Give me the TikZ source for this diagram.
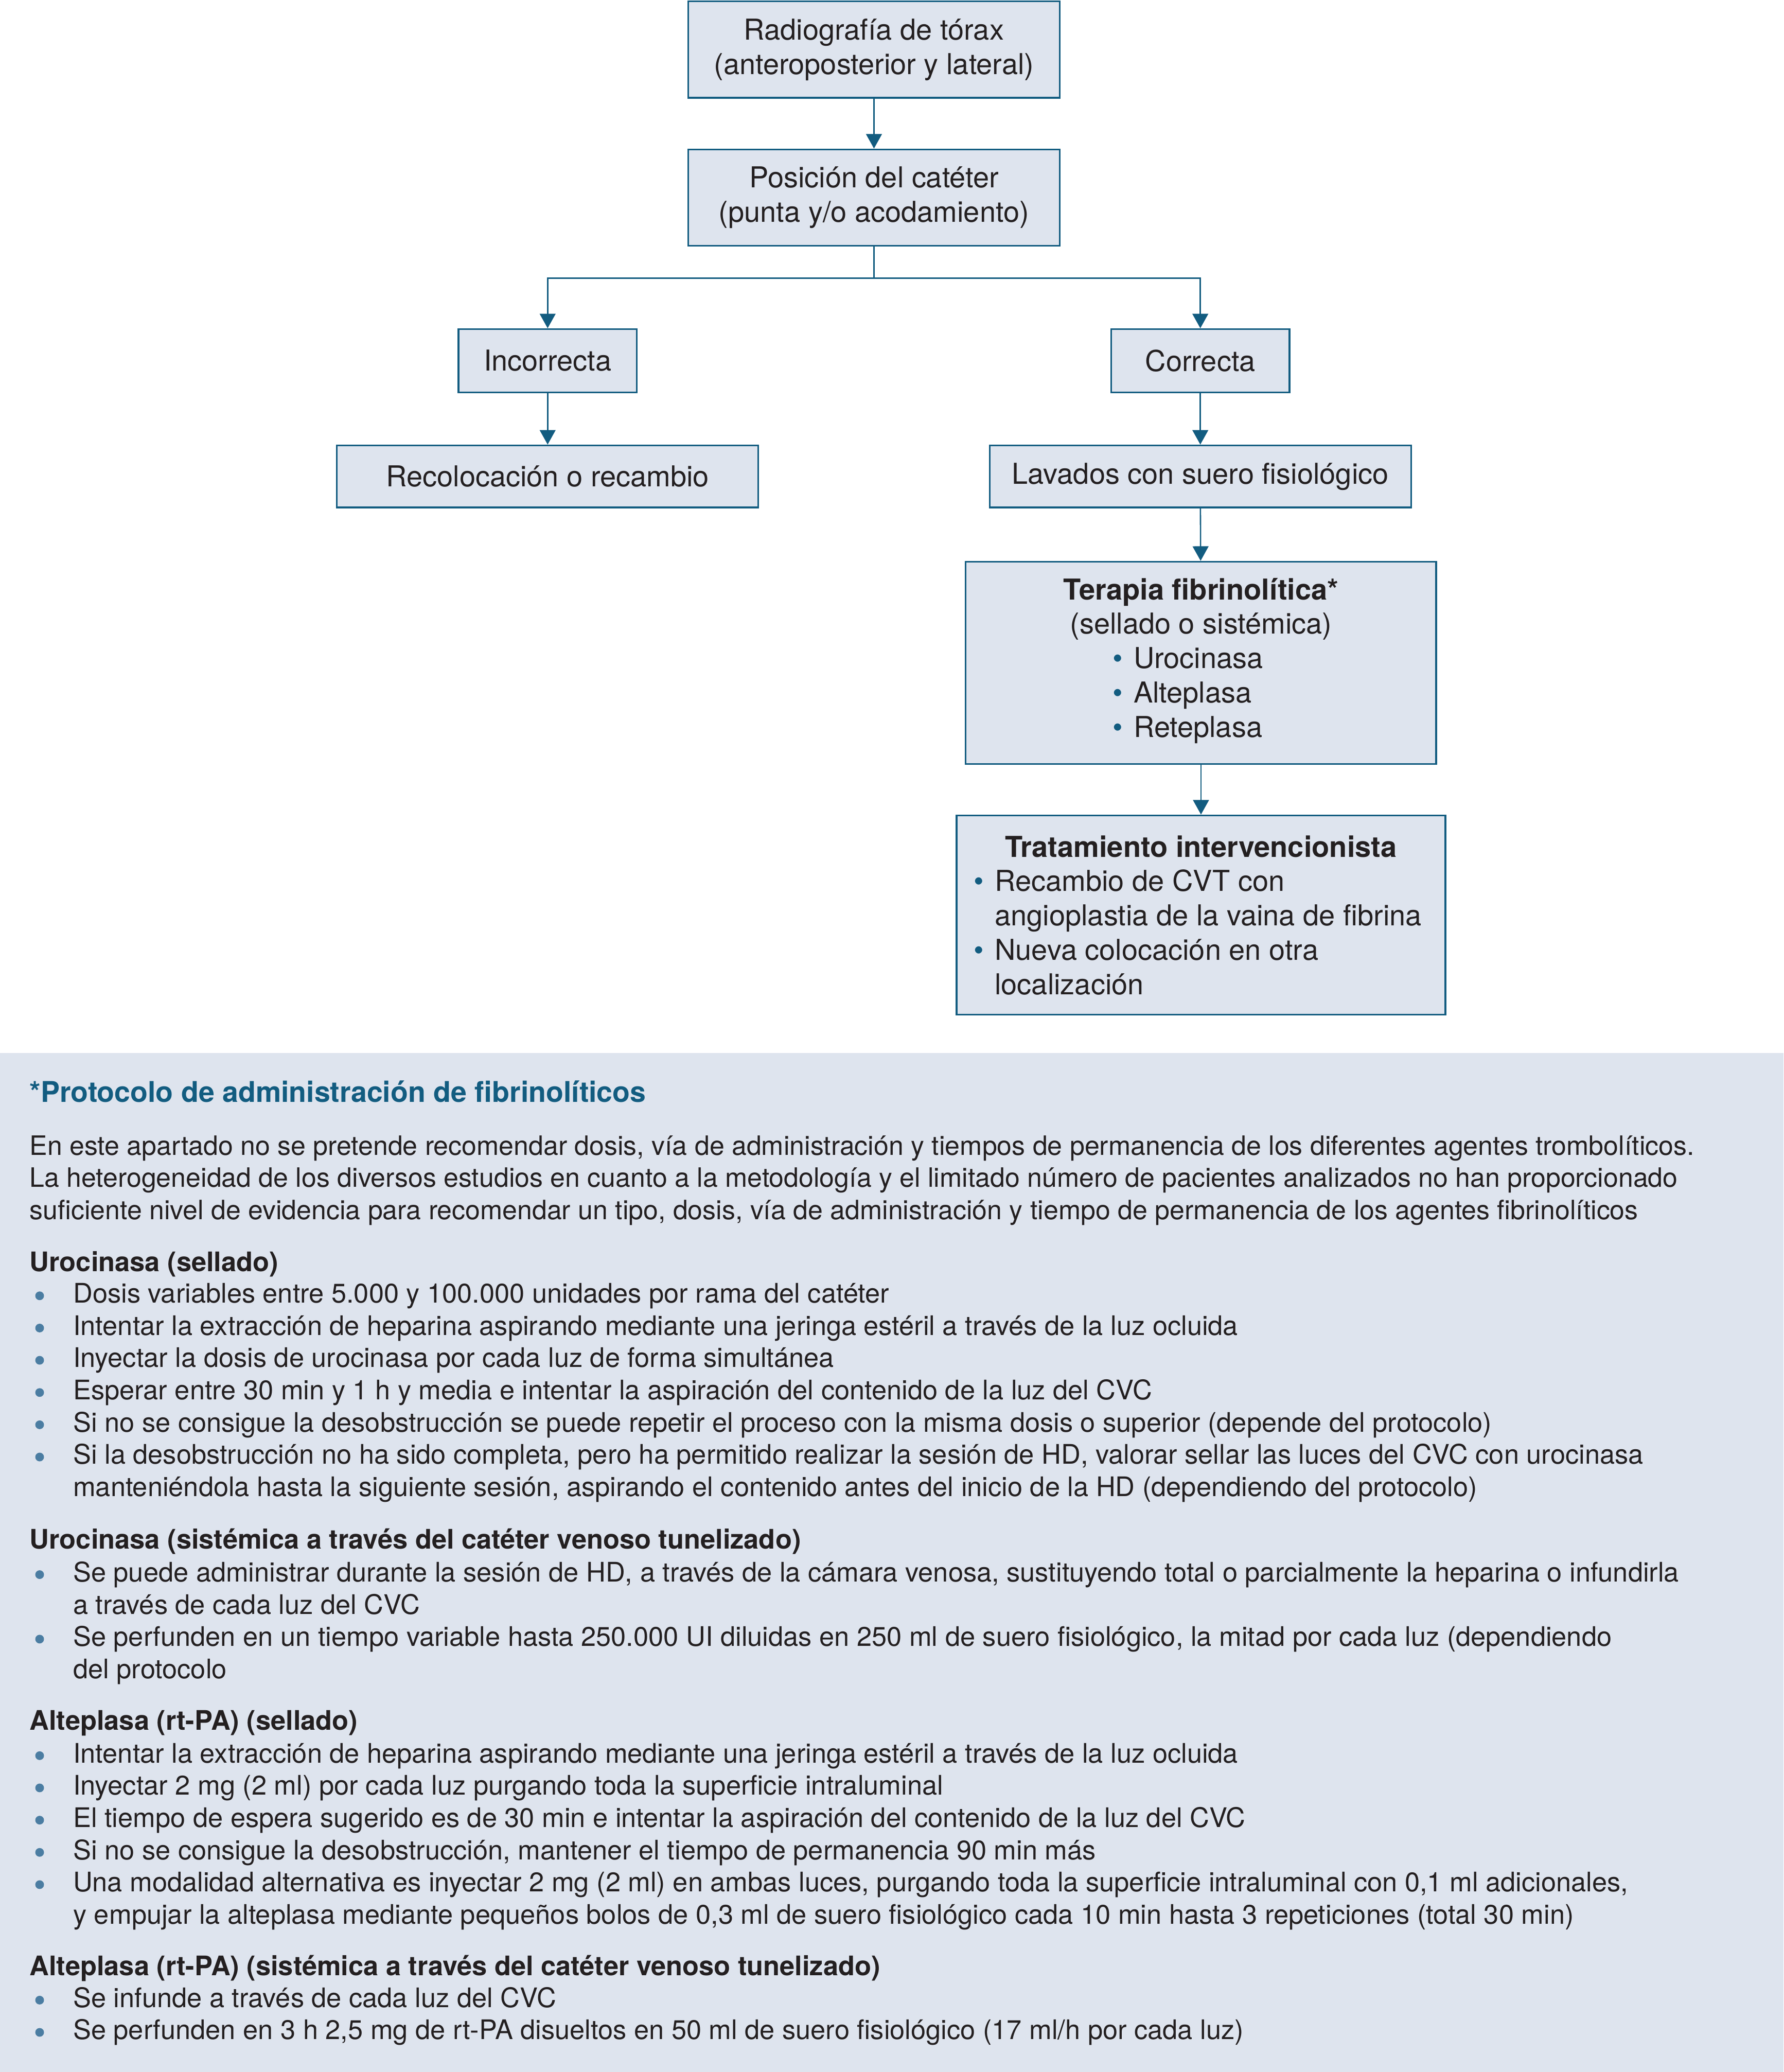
\documentclass[tikz,border=0pt]{standalone}
\usepackage{fontspec}
\setmainfont{TeX Gyre Heros}
\usetikzlibrary{arrows.meta}

\definecolor{cvblue}{RGB}{18,92,128}
\definecolor{cvfill}{RGB}{222,228,238}
\definecolor{cvdot}{RGB}{75,125,162}
\definecolor{cvtext}{RGB}{35,31,32}
\newcommand{\bul}{\makebox[8pt][l]{\textcolor{cvblue}{\textbullet}}}

\begin{document}
\begin{tikzpicture}[x=0.5pt, y=-0.5pt, >={Triangle[width=6pt,length=5.5pt]}]
    \tikzstyle{box}=[draw=cvblue, line width=0.6pt, fill=cvfill, inner sep=0pt, text=cvtext, font=\fontsize{10.9}{13}\selectfont, align=center]
    \tikzstyle{arrow}=[->, draw=cvblue, line width=0.5pt]
    \tikzstyle{line}=[anchor=base west, inner sep=0pt, text=cvtext, font=\fontsize{10.2}{12.2}\selectfont]
    \tikzstyle{head}=[line, font=\fontsize{10.2}{12.2}\selectfont\bfseries]
    \tikzstyle{dot}=[circle, fill=cvdot, inner sep=0pt, minimum size=3.3pt]

    \useasboundingbox (0,0) rectangle (1350,1568);

    % Draw the flowchart boxes
    \node[box, minimum width=140.5pt, minimum height=36.5pt] (rx) at (661.5,37.5) {Radiografía de tórax\\(anteroposterior y lateral)};
    \node[box, minimum width=140.5pt, minimum height=36.5pt] (pos) at (661.5,149.5) {Posición del catéter\\(punta y/o acodamiento)};
    \node[box, minimum width=67.5pt, minimum height=24pt] (inc) at (414.5,273) {Incorrecta};
    \node[box, minimum width=67.5pt, minimum height=24pt] (cor) at (908.5,273) {Correcta};
    \node[box, minimum width=159.5pt, minimum height=23.5pt] (rec) at (414.5,360.5) {Recolocación o recambio};
    \node[box, minimum width=159.5pt, minimum height=23.5pt] (lav) at (908.5,360.5) {Lavados con suero fisiológico};
    \node[box, minimum width=178pt, minimum height=76.5pt] (ter) at (909,501.5) {\textbf{Terapia fibrinolítica*}\\(sellado o sistémica)\\
        \hspace*{-10pt}\begin{tabular}[t]{@{}l@{}}\bul Urocinasa\\ \bul Alteplasa\\ \bul Reteplasa\end{tabular}};
    \node[box, minimum width=185pt, minimum height=75.5pt, align=left] (trat) at (909,692.5) {\makebox[172pt]{\textbf{Tratamiento intervencionista}}\\
        \bul Recambio de CVT con\\ \hspace*{8pt}angioplastia de la vaina de fibrina\\
        \bul Nueva colocación en otra\\ \hspace*{8pt}localización};

    % Connect the boxes
    \draw[arrow] (rx) -- (pos);
    \draw[arrow] (pos.south) -- ++(0,24) coordinate (split) -| (inc.north);
    \draw[arrow] (split) -| (cor.north);
    \draw[arrow] (inc) -- (rec);
    \draw[arrow] (cor) -- (lav);
    \draw[arrow] (lav) -- (ter);
    \draw[arrow] (ter) -- (trat);

    % Draw the protocol panel
    \fill[cvfill] (0,797) rectangle (1350,1568);
    \node[head, text=cvblue, font=\fontsize{10.8}{13}\selectfont\bfseries] (prot) at (22,834) {*Protocolo de administración de fibrinolíticos};
    \foreach \t [count=\i] in {{En este apartado no se pretende recomendar dosis, vía de administración y tiempos de permanencia de los diferentes agentes trombolíticos.},
        {La heterogeneidad de los diversos estudios en cuanto a la metodología y el limitado número de pacientes analizados no han proporcionado},
        {suficiente nivel de evidencia para recomendar un tipo, dosis, vía de administración y tiempo de permanencia de los agentes fibrinolíticos}}
        \node[line, font=\fontsize{10.1}{12.2}\selectfont] (intro-\i) at (22,{874+24.4*(\i-1)}) {\t};

    % Urocinasa (sellado)
    \node[head] (us) at (22,962) {Urocinasa (sellado)};
    \foreach \t [count=\i] in {{Dosis variables entre 5.000 y 100.000 unidades por rama del catéter},
        {Intentar la extracción de heparina aspirando mediante una jeringa estéril a través de la luz ocluida},
        {Inyectar la dosis de urocinasa por cada luz de forma simultánea},
        {Esperar entre 30 min y 1 h y media e intentar la aspiración del contenido de la luz del CVC},
        {Si no se consigue la desobstrucción se puede repetir el proceso con la misma dosis o superior (depende del protocolo)},
        {Si la desobstrucción no ha sido completa, pero ha permitido realizar la sesión de HD, valorar sellar las luces del CVC con urocinasa},
        {manteniéndola hasta la siguiente sesión, aspirando el contenido antes del inicio de la HD (dependiendo del protocolo)}}
        \node[line] (us-\i) at (55,{986+24.4*(\i-1)}) {\t};
    \foreach \i in {1,...,6}
        \node[dot] (usb-\i) at (30,{986+24.4*(\i-1)-5.4}) {};

    % Urocinasa (sistemica)
    \node[head] (ut) at (22,1172) {Urocinasa (sistémica a través del catéter venoso tunelizado)};
    \foreach \t [count=\i] in {{Se puede administrar durante la sesión de HD, a través de la cámara venosa, sustituyendo total o parcialmente la heparina o infundirla},
        {a través de cada luz del CVC},
        {Se perfunden en un tiempo variable hasta 250.000 UI diluidas en 250 ml de suero fisiológico, la mitad por cada luz (dependiendo},
        {del protocolo}}
        \node[line] (ut-\i) at (55,{1197+24.4*(\i-1)}) {\t};
    \foreach \i in {1,3}
        \node[dot] (utb-\i) at (30,{1197+24.4*(\i-1)-5.4}) {};

    % Alteplasa (sellado)
    \node[head] (as) at (22,1309) {Alteplasa (rt-PA) (sellado)};
    \foreach \t [count=\i] in {{Intentar la extracción de heparina aspirando mediante una jeringa estéril a través de la luz ocluida},
        {Inyectar 2 mg (2 ml) por cada luz purgando toda la superficie intraluminal},
        {El tiempo de espera sugerido es de 30 min e intentar la aspiración del contenido de la luz del CVC},
        {Si no se consigue la desobstrucción, mantener el tiempo de permanencia 90 min más},
        {Una modalidad alternativa es inyectar 2 mg (2 ml) en ambas luces, purgando toda la superficie intraluminal con 0,1 ml adicionales,},
        {y empujar la alteplasa mediante pequeños bolos de 0,3 ml de suero fisiológico cada 10 min hasta 3 repeticiones (total 30 min)}}
        \node[line] (as-\i) at (55,{1334+24.4*(\i-1)}) {\t};
    \foreach \i in {1,...,5}
        \node[dot] (asb-\i) at (30,{1334+24.4*(\i-1)-5.4}) {};

    % Alteplasa (sistemica)
    \node[head] (at) at (22,1495) {Alteplasa (rt-PA) (sistémica a través del catéter venoso tunelizado)};
    \foreach \t [count=\i] in {{Se infunde a través de cada luz del CVC},
        {Se perfunden en 3 h 2,5 mg de rt-PA disueltos en 50 ml de suero fisiológico (17 ml/h por cada luz)}}
        \node[line] (at-\i) at (55,{1519+24.4*(\i-1)}) {\t};
    \foreach \i in {1,2}
        \node[dot] (atb-\i) at (30,{1519+24.4*(\i-1)-5.4}) {};

\end{tikzpicture}
\end{document}
